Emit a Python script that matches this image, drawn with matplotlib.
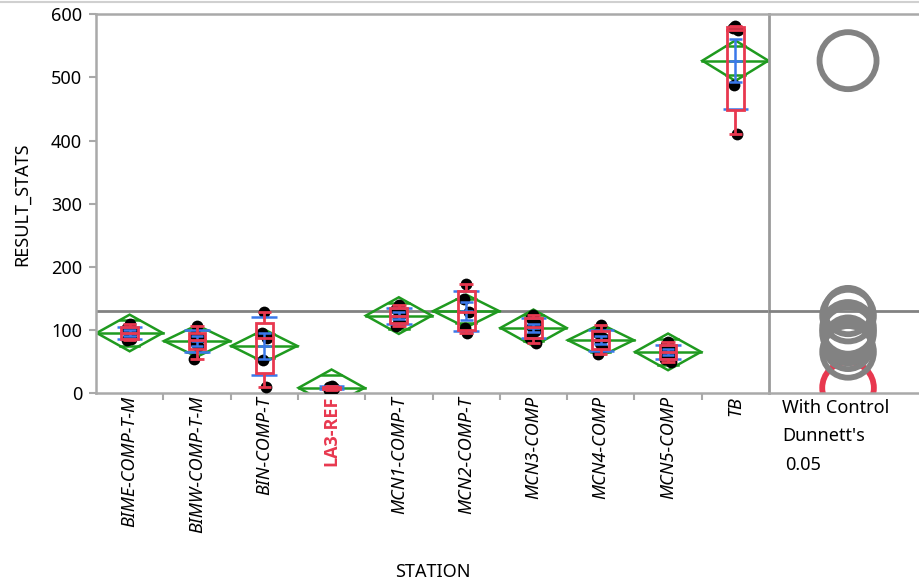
import matplotlib
matplotlib.use('Agg')
import matplotlib.pyplot as plt
import numpy as np
from matplotlib.patches import Ellipse, Polygon, Rectangle
from matplotlib.lines import Line2D

plt.rcParams['font.family'] = ['Noto Sans', 'DejaVu Sans']

# ---- data ----
stations = ['BIME-COMP-T-M', 'BIMW-COMP-T-M', 'BIN-COMP-T', 'LA3-REF', 'MCN1-COMP-T',
            'MCN2-COMP-T', 'MCN3-COMP', 'MCN4-COMP', 'MCN5-COMP', 'TB']
bime = [109, 104, 98, 92, 86, 84]
bimw = [107, 92, 88, 80, 75, 55]
bin_ = [129, 95, 88, 53, 10]
la3 = [12, 10, 9, 8, 7, 6]
mcn1 = [140, 133, 126, 120, 112, 107]
mcn2 = [173, 150, 129, 103, 96]
mcn3 = [124, 120, 110, 105, 98, 88, 80]
mcn4 = [108, 95, 88, 80, 72, 62]
mcn5 = [82, 76, 70, 66, 60, 55, 50]
tb = [582, 578, 575, 488, 410]
groups = [bime, bimw, bin_, la3, mcn1, mcn2, mcn3, mcn4, mcn5, tb]
ci_half = [29, 25, 26, 29, 29, 26, 29, 25.5, 29, 32]   # 95% CI half-width (diamonds)
control = 'LA3-REF'
yticks = [0, 100, 200, 300, 400, 500, 600]
YMAX = 600

# ---- style ----
GREEN = '#1f9a1f'
RED = '#e8384f'
BLUE = '#3a78ea'
GRAY = '#828282'
SPINE = '#a9a9a9'
FS = 13

W, H = 919, 584
fig = plt.figure(figsize=(W / 100, H / 100), dpi=100)
L, R, B, T = 96 / W, 769 / W, 1 - 393.3 / H, 1 - 14.3 / H
ax = fig.add_axes([L, B, R - L, T - B])
ax2 = fig.add_axes([R, B, 1 - R, T - B])
ax2.patch.set_visible(False)

jit = [0.0, -0.035, 0.035, -0.015, 0.02, -0.045, 0.045]
means = []
for i, vals in enumerate(groups):
    v = np.array(vals, dtype=float)
    n = len(v)
    m = v.mean()
    means.append(m)
    sd = v.std(ddof=1)
    se = sd / np.sqrt(n)
    q1, med, q3 = np.percentile(v, [25, 50, 75], method='weibull')
    iqr = q3 - q1
    lo = v[v >= q1 - 1.5 * iqr].min()
    hi = v[v <= q3 + 1.5 * iqr].max()
    c = ci_half[i]
    hw = 0.49
    # means diamond
    ax.add_patch(Polygon([(i - hw, m), (i, m + c), (i + hw, m), (i, m - c)], closed=True,
                         fill=False, edgecolor=GREEN, lw=1.8, zorder=2))
    ax.plot([i - hw, i + hw], [m, m], color=GREEN, lw=1.8, zorder=2)
    ow = hw * (1 - 1 / np.sqrt(2))
    for s in (1, -1):
        ax.plot([i - ow, i + ow], [m + s * c / np.sqrt(2)] * 2, color=GREEN, lw=1.8, zorder=2)
    # points
    xs = [i + jit[k % len(jit)] for k in range(n)]
    ax.scatter(xs, v, s=72, color='black', zorder=3, linewidths=0)
    # std dev lines (only those inside the axis range) and mean error bars
    sdl = [y for y in (m - sd, m + sd) if 0 <= y <= YMAX]
    if sdl:
        ax.hlines(sdl, i - 0.19, i + 0.19, color=BLUE, lw=1.8, zorder=4)
    ax.vlines([i], [m - se], [m + se], color=BLUE, lw=1.8, zorder=4)
    ax.hlines([m - se, m, m + se], i - 0.095, i + 0.095, color=BLUE, lw=1.8, zorder=4)
    # box plot
    bw = 0.125
    ax.add_patch(Rectangle((i - bw, q1), 2 * bw, q3 - q1, fill=False, edgecolor=RED,
                           lw=2, zorder=5))
    ax.plot([i - bw, i + bw], [med, med], color=RED, lw=2, zorder=5)
    ax.vlines([i, i], [lo, q3], [q1, hi], color=RED, lw=2, zorder=5)
    ax.hlines([lo, hi], i - 0.1, i + 0.1, color=RED, lw=2, zorder=5)

grand = np.mean(means)

ax.set_xlim(-0.5, len(stations) - 0.5)
ax.set_ylim(0, YMAX)
ax.set_yticks(yticks)
ax.set_yticklabels([str(t) for t in yticks], fontsize=FS)
ax.set_xticks(np.arange(len(stations) - 1) + 0.5)
ax.set_xticklabels([])
ax.set_xticks(np.arange(len(stations)), minor=True)
ax.set_xticklabels(stations, minor=True, rotation=90, fontsize=FS, va='top', ha='center')
for lab in ax.get_xticklabels(minor=True):
    if lab.get_text() == control:
        lab.set_color(RED)
        lab.set_family(['Open Sans', 'DejaVu Sans'])
        lab.set_fontweight('bold')
    else:
        lab.set_fontstyle('italic')
ax.tick_params(axis='x', which='minor', length=0, pad=2)
ax.tick_params(axis='x', which='major', length=5, width=1.5, color=SPINE)
ax.tick_params(axis='y', length=5, width=1.5, color=SPINE, pad=5)
ax.set_ylabel('RESULT_STATS', fontsize=FS, va='center')
ax.set_xlabel('STATION', fontsize=FS, va='center')
ax.yaxis.set_label_coords(-74 / (769 - 96), 0.5)
ax.xaxis.set_label_coords(0.5, -(572 - 393.3) / (393.3 - 14.3))
for side in ['left', 'bottom', 'top']:
    ax.spines[side].set_color(SPINE)
    ax.spines[side].set_linewidth(1.8)
ax.spines['right'].set_color('#9a9a9a')
ax.spines['right'].set_linewidth(2)
ax.axhline(grand, color=GRAY, lw=2, zorder=1)

# comparison circles panel
ax2.set_xlim(0, 1)
ax2.set_ylim(0, YMAX)
ax2.set_xticks([])
ax2.set_yticks([])
for side in ['bottom', 'top']:
    ax2.spines[side].set_color(SPINE)
    ax2.spines[side].set_linewidth(1.8)
ax2.spines['left'].set_visible(False)
ax2.spines['right'].set_visible(False)
ax2.axhline(grand, color=GRAY, lw=2, zorder=1)

ppu = ax2.bbox.height / YMAX
order = [stations.index(control)] + [k for k in range(len(stations)) if stations[k] != control]
for z, k in enumerate(order):
    r = ci_half[k] * 1.41
    wx = 2 * r * ppu / ax2.bbox.width
    col = RED if stations[k] == control else GRAY
    ax2.add_patch(Ellipse((0.527, means[k]), wx, 2 * r, fill=False, edgecolor=col,
                          lw=4.2, zorder=2 + z))

fig.text(782 / W, 1 - 408 / H, 'With Control', fontsize=FS, ha='left', va='center')
fig.text(782 / W, 1 - 436 / H, "Dunnett's", fontsize=FS, ha='left', va='center')
fig.text(785 / W, 1 - 465 / H, '0.05', fontsize=FS, ha='left', va='center')
fig.add_artist(Line2D([0, 1], [1 - 1.5 / H] * 2, color='#d0d0d0', lw=1.5))

fig.savefig('out.png', dpi=100)
